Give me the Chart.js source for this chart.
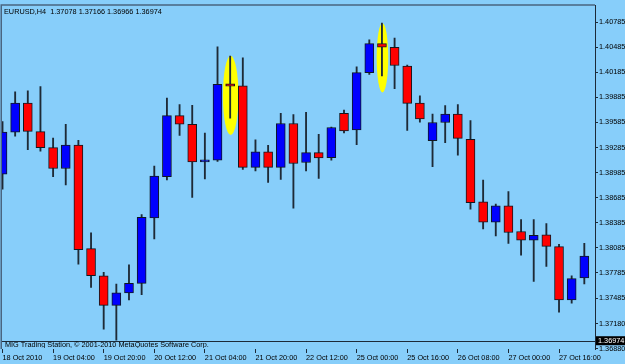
<!DOCTYPE html>
<html>
<head>
<meta charset="utf-8">
<script src="https://cdn.jsdelivr.net/npm/chart.js@4.4.0/dist/chart.umd.min.js"></script>
<style>
    html, body { margin: 0; padding: 0; background: #87cefa; }
    #chart { display: block; }
</style>
</head>
<body>
<canvas id="chart" width="625" height="364"></canvas>
<script>
/* EURUSD H4 candles, 18 Oct 12:00 .. 28 Oct 00:00 */
const CANDLE_TIMES = [
    "18 Oct 12:00", "18 Oct 16:00", "18 Oct 20:00", "19 Oct 00:00", "19 Oct 04:00", "19 Oct 08:00",
    "19 Oct 12:00", "19 Oct 16:00", "19 Oct 20:00", "20 Oct 00:00", "20 Oct 04:00", "20 Oct 08:00",
    "20 Oct 12:00", "20 Oct 16:00", "20 Oct 20:00", "21 Oct 00:00", "21 Oct 04:00", "21 Oct 08:00",
    "21 Oct 12:00", "21 Oct 16:00", "21 Oct 20:00", "22 Oct 00:00", "22 Oct 04:00", "22 Oct 08:00",
    "22 Oct 12:00", "22 Oct 16:00", "22 Oct 20:00", "24 Oct 20:00", "25 Oct 00:00", "25 Oct 04:00",
    "25 Oct 08:00", "25 Oct 12:00", "25 Oct 16:00", "25 Oct 20:00", "26 Oct 00:00", "26 Oct 04:00",
    "26 Oct 08:00", "26 Oct 12:00", "26 Oct 16:00", "26 Oct 20:00", "27 Oct 00:00", "27 Oct 04:00",
    "27 Oct 08:00", "27 Oct 12:00", "27 Oct 16:00", "27 Oct 20:00", "28 Oct 00:00",
];
const OPEN = [
    1.38968, 1.39470, 1.39817, 1.39475, 1.39284, 1.39035, 1.39316, 1.38075, 1.37751, 1.37396,
    1.37546, 1.37660, 1.38442, 1.38936, 1.39668, 1.39564, 1.39114, 1.39134, 1.40047, 1.40023,
    1.39047, 1.39233, 1.39047, 1.39573, 1.39106, 1.39224, 1.39165, 1.39695, 1.39497, 1.40181,
    1.40528, 1.40485, 1.40260, 1.39817, 1.39367, 1.39585, 1.39687, 1.39383, 1.38637, 1.38391,
    1.38589, 1.38281, 1.38178, 1.38241, 1.38099, 1.37461, 1.37724,
];
const HIGH = [
    1.39596, 1.39952, 1.39964, 1.40015, 1.39399, 1.39564, 1.39371, 1.38265, 1.37791, 1.37653,
    1.37882, 1.38483, 1.39063, 1.39876, 1.39798, 1.39790, 1.39458, 1.40489, 1.40379, 1.40358,
    1.39378, 1.39312, 1.39695, 1.39679, 1.39707, 1.39442, 1.39529, 1.39734, 1.40252, 1.40575,
    1.40773, 1.40595, 1.40272, 1.39905, 1.39687, 1.39786, 1.39798, 1.39608, 1.38897, 1.38608,
    1.38759, 1.38423, 1.38423, 1.38376, 1.38127, 1.37751, 1.38139,
];
const LOW = [
    1.38786, 1.39422, 1.39260, 1.39241, 1.38936, 1.38838, 1.37890, 1.37613, 1.37112, 1.36981,
    1.37463, 1.37526, 1.38193, 1.38897, 1.39431, 1.38688, 1.38909, 1.39120, 1.39636, 1.39023,
    1.39007, 1.38869, 1.38904, 1.38561, 1.39007, 1.38916, 1.39134, 1.39461, 1.39319, 1.40161,
    1.40142, 1.39991, 1.39490, 1.39588, 1.39055, 1.39343, 1.39194, 1.38549, 1.38312, 1.38229,
    1.38139, 1.37997, 1.37684, 1.37862, 1.37317, 1.37423, 1.37653,
];
const CLOSE = [
    1.39470, 1.39817, 1.39478, 1.39284, 1.39035, 1.39316, 1.38063, 1.37751, 1.37396, 1.37546,
    1.37660, 1.38451, 1.38945, 1.39668, 1.39564, 1.39114, 1.39138, 1.40042, 1.40018, 1.39047,
    1.39233, 1.39047, 1.39573, 1.39094, 1.39224, 1.39162, 1.39525, 1.39485, 1.40181, 1.40528,
    1.40485, 1.40267, 1.39813, 1.39627, 1.39585, 1.39687, 1.39395, 1.38625, 1.38391, 1.38589,
    1.38269, 1.38178, 1.38234, 1.38103, 1.37461, 1.37716, 1.37988,
];

/* Axis labels as MetaTrader prints them */
const TIME_TICK_STEP = 4;
const TIME_TICK_LABELS = [
    "18 Oct 2010", "19 Oct 04:00", "19 Oct 20:00", "20 Oct 12:00", "21 Oct 04:00", "21 Oct 20:00",
    "22 Oct 12:00", "25 Oct 00:00", "25 Oct 16:00", "26 Oct 08:00", "27 Oct 00:00", "27 Oct 16:00",
];
const PRICE_TICKS = [
    1.40785, 1.40485, 1.40185, 1.39885, 1.39585, 1.39285, 1.38985,
    1.38685, 1.38385, 1.38085, 1.37785, 1.37485, 1.37180, 1.36880,
];
const PRICE_MIN = 1.36875;
const PRICE_MAX = 1.40986;

/* Highlighted candles (yellow ovals) */
const HIGHLIGHT_INDEX = [18, 30];
const HIGHLIGHT_TOP = [1.40382, 1.40773];
const HIGHLIGHT_BOTTOM = [1.39434, 1.39944];

/* Current bid and title quote */
const SYMBOL = "EURUSD,H4";
const LAST_OHLC = [1.37078, 1.37166, 1.36966, 1.36974];
const BID = 1.36974;
const COPYRIGHT = "MIG Trading Station, \u00a9 2001-2010 MetaQuotes Software Corp.";

const COLORS = {
    bg: "#87cefa",
    up: "#0000ff",
    down: "#ff0000",
    outline: "#101820",
    wick: "#1e2a36",
    text: "#000000",
    axis: "#1c2a38",
    frame: "#4a6580",
    highlight: "#ffff00",
};
const FONT = { family: "Liberation Sans", size: 7.3 };
const ELLIPSE_RX = [7.8, 5.8];

/* Yellow ovals, bid line, frame and text drawn on top of the Chart.js layout */
const mtOverlay = {
    id: "mtOverlay",
    beforeDatasetsDraw(chart) {
        const { ctx, chartArea: area, scales: { x, y } } = chart;
        ctx.save();
        ctx.fillStyle = COLORS.highlight;
        HIGHLIGHT_INDEX.forEach((idx, k) => {
            const cx = x.getPixelForValue(idx) + 0.5;
            const top = y.getPixelForValue(HIGHLIGHT_TOP[k]);
            const bottom = y.getPixelForValue(HIGHLIGHT_BOTTOM[k]);
            ctx.beginPath();
            ctx.ellipse(cx, (top + bottom) / 2, ELLIPSE_RX[k], (bottom - top) / 2, 0, 0, Math.PI * 2);
            ctx.fill();
        });
        // bid line
        const by = Math.round(y.getPixelForValue(BID)) + 0.5;
        ctx.strokeStyle = COLORS.axis;
        ctx.lineWidth = 1;
        ctx.beginPath();
        ctx.moveTo(area.left, by);
        ctx.lineTo(area.right, by);
        ctx.stroke();
        ctx.restore();
    },
    afterDraw(chart) {
        const { ctx, chartArea: area, scales: { y } } = chart;
        ctx.save();
        // frame (left and top)
        ctx.strokeStyle = COLORS.frame;
        ctx.lineWidth = 1.5;
        ctx.beginPath();
        ctx.moveTo(area.left + 0.25, area.bottom);
        ctx.lineTo(area.left + 0.25, area.top - 0.5);
        ctx.lineTo(area.right, area.top - 0.5);
        ctx.stroke();

        ctx.font = `${FONT.size}px ${FONT.family}`;
        ctx.textBaseline = "alphabetic";
        ctx.fillStyle = COLORS.text;
        ctx.fillText(`${SYMBOL}  ${LAST_OHLC.map(v => v.toFixed(5)).join(" ")}`, area.left + 3, area.top + 9);

        // copyright, clipped to the plot
        ctx.save();
        ctx.beginPath();
        ctx.rect(area.left, area.top, area.right - area.left, area.bottom - area.top - 1);
        ctx.clip();
        ctx.fillText(COPYRIGHT, area.left + 4, area.bottom - 2);
        ctx.restore();

        // bid price box on the axis
        const by = y.getPixelForValue(BID);
        ctx.fillStyle = "#000000";
        ctx.fillRect(area.right + 1, by - 4.5, chart.width - area.right - 1, 9);
        ctx.fillStyle = "#ffffff";
        ctx.textBaseline = "middle";
        ctx.fillText(BID.toFixed(5), area.right + 3, by + 0.5);
        ctx.restore();
    },
};

const idx = CANDLE_TIMES.map((_, i) => i);

new Chart(document.getElementById("chart"), {
    type: "bar",
    data: {
        labels: CANDLE_TIMES,
        datasets: [
            {
                label: "body",
                data: idx.map(i => ({ x: i, y: [OPEN[i], CLOSE[i]] })),
                backgroundColor: idx.map(i => (CLOSE[i] >= OPEN[i] ? COLORS.up : COLORS.down)),
                borderColor: COLORS.outline,
                borderWidth: 1,
                borderSkipped: false,
                barThickness: 9,
                grouped: false,
                order: 0,
            },
            {
                label: "wick",
                data: idx.map(i => ({ x: i, y: [LOW[i], HIGH[i]] })),
                backgroundColor: COLORS.wick,
                barThickness: 1.2,
                grouped: false,
                order: 1,
            },
        ],
    },
    options: {
        responsive: false,
        animation: false,
        events: [],
        layout: { padding: { top: 2, left: 1, right: 0, bottom: 0 } },
        plugins: { legend: { display: false }, tooltip: { enabled: false } },
        scales: {
            x: {
                type: "linear",
                offset: false,
                min: -0.119,
                max: 46.845,
                afterBuildTicks: s => {
                    s.ticks = TIME_TICK_LABELS.map((_, j) => ({ value: j * TIME_TICK_STEP }));
                },
                afterFit: s => { s.height = 15; },
                grid: { offset: false, drawOnChartArea: false, drawTicks: true, tickLength: 4, color: COLORS.axis },
                border: { display: false },
                ticks: {
                    callback: v => TIME_TICK_LABELS[v / TIME_TICK_STEP],
                    autoSkip: false,
                    maxRotation: 0,
                    align: "start",
                    padding: 1,
                    color: COLORS.text,
                    font: FONT,
                },
            },
            y: {
                type: "linear",
                position: "right",
                min: PRICE_MIN,
                max: PRICE_MAX,
                afterBuildTicks: s => {
                    s.ticks = PRICE_TICKS.map(v => ({ value: v }));
                },
                afterFit: s => { s.width = 30; },
                grid: { drawOnChartArea: false, drawTicks: true, tickLength: 3, color: COLORS.axis },
                border: { display: true, color: COLORS.axis, width: 1 },
                ticks: {
                    callback: v => v.toFixed(5),
                    autoSkip: false,
                    padding: 1,
                    color: COLORS.text,
                    font: FONT,
                },
            },
        },
    },
    plugins: [mtOverlay],
});
</script>
</body>
</html>
